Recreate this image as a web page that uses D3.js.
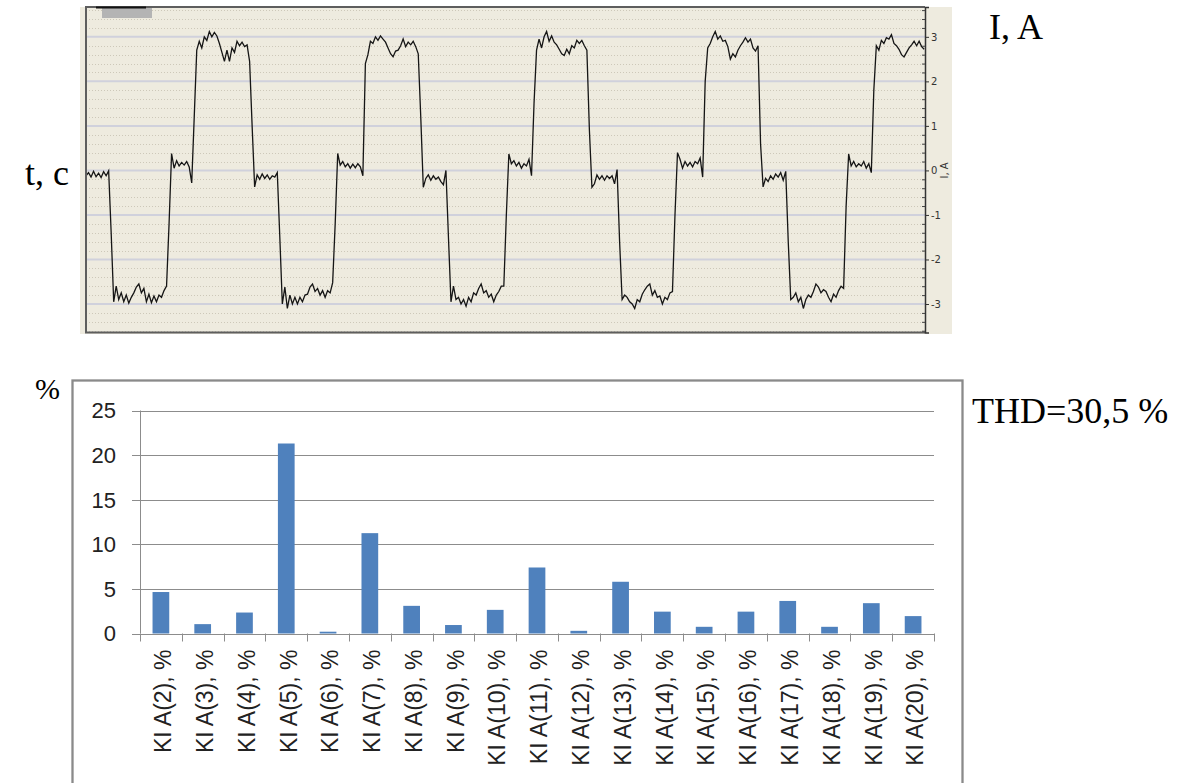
<!DOCTYPE html>
<html>
<head>
<meta charset="utf-8">
<script src="https://cdn.jsdelivr.net/npm/d3@7"></script>
<style>
  html, body { margin: 0; padding: 0; background: #ffffff; }
  svg { display: block; }
</style>
</head>
<body>
<svg id="chart" width="1192" height="783"></svg>
<script>
// ---- Data -------------------------------------------------------------
// Phase current I, A, sampled every 0.3 ms over a 100 ms window
const sampleStepMs = 0.3;
const currentA = [
  -0.12, -0.05, -0.15, -0.02, -0.14, -0.06, -0.16, -0.03, -0.12, -0.01,
  -1.4, -2.95,
  -2.6, -2.9, -2.75, -2.95, -2.8, -2.98, -2.85, -2.75, -2.62, -2.55, -2.75, -2.65, -2.95, -2.78, -2.97, -2.82, -2.95, -2.8, -2.85, -2.7, -2.6,
  -1.2, 0.38,
  0.05, 0.22, 0.1, 0.18, 0.12, 0.2, 0.08, -0.28,
  1.2, 2.7,
  2.9, 2.75, 3.0, 2.92, 3.12, 3.0, 3.1, 3.02, 2.85, 2.65, 2.45, 2.7, 2.45, 2.75, 2.65, 2.9, 2.8, 2.88, 2.78, 2.82, 2.45,
  1.0, -0.37,
  -0.1, -0.2, -0.08, -0.18, -0.1, -0.2, -0.12, -0.15, -0.05,
  -1.5, -3.0,
  -2.62, -3.1, -2.8, -3.0, -2.85, -3.0, -2.85, -2.95, -2.8, -2.78, -2.62, -2.55, -2.72, -2.65, -2.8, -2.7, -2.85, -2.7, -2.75, -2.52,
  -1.2, 0.38,
  0.12, 0.2, 0.08, 0.15, 0.05, 0.14, 0.06, 0.15, 0.08, -0.12,
  2.4,
  2.6, 2.9, 2.85, 3.0, 2.92, 3.02, 2.95, 2.88, 2.75, 2.62, 2.55, 2.68, 2.7, 2.8, 2.95, 2.78, 2.88, 2.82, 2.9, 2.78, 2.62,
  1.2, -0.38,
  -0.18, -0.1, -0.22, -0.12, -0.2, -0.15, -0.25, -0.32, 0.0,
  -1.5, -2.95,
  -2.6, -2.9, -2.85, -3.0, -2.9, -3.05, -2.85, -2.95, -2.75, -2.8, -2.65, -2.55, -2.75, -2.7, -2.85, -2.78, -2.95, -2.8, -2.72, -2.6, -2.6,
  -1.0, 0.37,
  0.15, 0.22, 0.1, 0.18, 0.05, 0.15, 0.1, 0.25, -0.12,
  1.5, 2.7,
  2.95, 2.75, 3.0, 3.12, 2.9, 3.02, 2.88, 2.82, 2.72, 2.62, 2.58, 2.72, 2.62, 2.8, 2.75, 2.92, 2.85, 2.92, 2.8, 2.7,
  0.9, -0.38,
  -0.3, -0.1, -0.2, -0.12, -0.22, -0.12, -0.18, -0.12, -0.3, 0.02,
  -1.6, -2.9,
  -2.8, -2.85, -2.95, -3.0, -3.1, -2.9, -2.95, -2.78, -2.68, -2.6, -2.55, -2.8, -2.7, -2.85, -2.82, -3.0, -2.85, -2.9, -2.75, -2.72,
  -1.0, 0.4,
  0.25, 0.05, 0.2, 0.1, 0.18, 0.08, 0.2, 0.15, 0.28, -0.15,
  2.0, 2.75,
  2.85, 3.0, 3.12, 2.95, 3.02, 2.9, 2.92, 2.78, 2.5, 2.62, 2.55, 2.7, 2.8, 2.88, 2.98, 2.88, 2.95, 2.75, 2.68, 2.8,
  0.6, -0.37,
  -0.18, -0.25, -0.12, -0.2, -0.08, -0.15, -0.05, -0.22, -0.02,
  -1.6, -2.9,
  -2.85, -2.75, -2.95, -2.85, -3.1, -2.9, -2.8, -2.85, -2.72, -2.55, -2.62, -2.75, -2.68, -2.72, -2.85, -2.95, -2.78, -2.85, -2.7, -2.6, -2.65,
  -0.8, 0.37,
  0.1, 0.2, 0.08, 0.15, 0.1, 0.2, 0.05, 0.15, -0.05,
  1.8, 2.8,
  2.7, 2.92, 2.85, 2.98, 2.95, 3.05, 2.85, 2.8, 2.72, 2.6, 2.55, 2.65, 2.75, 2.82, 2.9, 2.8, 2.9, 2.78, 2.72
];
const timeWindowMs = [0, 100];
const currentDomain = [-3.64, 3.67];
const currentTicks = [-3, -2, -1, 0, 1, 2, 3];

// Harmonic content of the current, % of fundamental
const harmonicLabels = [
  "KI A(2), %", "KI A(3), %", "KI A(4), %", "KI A(5), %", "KI A(6), %",
  "KI A(7), %", "KI A(8), %", "KI A(9), %", "KI A(10), %", "KI A(11), %",
  "KI A(12), %", "KI A(13), %", "KI A(14), %", "KI A(15), %", "KI A(16), %",
  "KI A(17), %", "KI A(18), %", "KI A(19), %", "KI A(20), %"
];
const harmonicValues = [4.65, 1.05, 2.35, 21.3, 0.2, 11.25, 3.1, 0.95, 2.65, 7.4,
                        0.3, 5.8, 2.45, 0.75, 2.45, 3.65, 0.75, 3.4, 1.95];
const percentTicks = [0, 5, 10, 15, 20, 25];
const thdText = "THD=30,5 %";

// ---- Drawing -------------------------------------------------------------
const svg = d3.select("#chart");

/* ===== Oscillogram ===== */
const osc = svg.append("g");
const oscLeft = 86, oscRight = 925, oscTop = 7, oscBottom = 332.5;

osc.append("rect")
  .attr("x", 80).attr("y", oscTop).attr("width", 952 - 80).attr("height", 334 - oscTop)
  .attr("fill", "#eeebdf");

const xT = d3.scaleLinear().domain(timeWindowMs).range([oscLeft, oscRight]);
const yI = d3.scaleLinear().domain(currentDomain).range([oscBottom, oscTop]);

// fine dotted grid every 0.2 A
const minorVals = d3.range(-18, 19).map(k => k / 5).filter(v => Math.abs(v - Math.round(v)) > 1e-9);
osc.append("g").selectAll("line").data(minorVals).join("line")
  .attr("x1", oscLeft).attr("x2", oscRight)
  .attr("y1", d => Math.round(yI(d)) + 0.5).attr("y2", d => Math.round(yI(d)) + 0.5)
  .attr("stroke", "#cdc8b9").attr("stroke-width", 1).attr("stroke-dasharray", "1,2");

// solid grid every 1 A
osc.append("g").selectAll("line").data(currentTicks).join("line")
  .attr("x1", oscLeft).attr("x2", oscRight)
  .attr("y1", d => yI(d)).attr("y2", d => yI(d))
  .attr("stroke", "#d0d1dc").attr("stroke-width", 2);

// waveform
const line = d3.line()
  .x((d, i) => xT(i * sampleStepMs))
  .y(d => yI(d));
osc.append("path")
  .datum(currentA)
  .attr("d", line)
  .attr("fill", "none")
  .attr("stroke", "#151515")
  .attr("stroke-width", 1.3)
  .attr("stroke-linejoin", "miter");

// frame (top, left, bottom)
osc.append("path")
  .attr("d", `M${oscRight},${oscTop} H${oscLeft} V${oscBottom} H${oscRight}`)
  .attr("fill", "none").attr("stroke", "#5e5e5e").attr("stroke-width", 2);

// right axis with minor ticks
const axisR = d3.axisRight(yI).tickValues(currentTicks).tickSize(4).tickPadding(2)
  .tickFormat(d => String(d));
const axG = osc.append("g").attr("transform", `translate(${oscRight},0)`).call(axisR);
axG.select(".domain").attr("stroke", "#333").attr("stroke-width", 1.5);
axG.selectAll(".tick line").attr("stroke", "#333");
axG.selectAll("text").attr("font-family", "Tahoma, 'DejaVu Sans', sans-serif")
  .attr("font-size", 10).attr("fill", "#333");
const minorAxis = d3.axisRight(yI).tickValues(minorVals).tickSize(-3).tickFormat("");
const mG = osc.append("g").attr("transform", `translate(${oscRight},0)`).call(minorAxis);
mG.select(".domain").remove();
mG.selectAll(".tick line").attr("stroke", "#444");

osc.append("text")
  .attr("transform", `translate(948,${yI(0)}) rotate(-90)`)
  .attr("text-anchor", "middle")
  .attr("font-family", "Tahoma, 'DejaVu Sans', sans-serif")
  .attr("font-size", 10).attr("fill", "#333")
  .text("I, A");

// scroll marker in the upper-left corner
osc.append("rect").attr("x", 102).attr("y", 8).attr("width", 50).attr("height", 10).attr("fill", "#b4b4b4");
osc.append("line").attr("x1", 96).attr("x2", 146).attr("y1", 7.5).attr("y2", 7.5)
  .attr("stroke", "#111").attr("stroke-width", 2);

/* ===== Harmonic spectrum ===== */
const bar = svg.append("g");
bar.append("rect")
  .attr("x", 72.5).attr("y", 380.5).attr("width", 890).attr("height", 430)
  .attr("fill", "#ffffff").attr("stroke", "#8a8a8a").attr("stroke-width", 2.3);

const bLeft = 140, bRight = 934, bTop = 410.5, bBottom = 633.5;
const xB = d3.scaleBand().domain(harmonicLabels).range([bLeft, bRight])
  .paddingInner(0.6).paddingOuter(0.3);
const yB = d3.scaleLinear().domain([0, 25]).range([bBottom, bTop]);

// horizontal gridlines (extend left as tick marks)
bar.append("g").selectAll("line").data(percentTicks.filter(d => d > 0)).join("line")
  .attr("x1", bLeft - 8).attr("x2", bRight)
  .attr("y1", d => Math.round(yB(d)) + 0.5).attr("y2", d => Math.round(yB(d)) + 0.5)
  .attr("stroke", "#8c8c8c").attr("stroke-width", 1);

// bars
bar.append("g").selectAll("rect").data(harmonicValues).join("rect")
  .attr("x", (d, i) => xB(harmonicLabels[i]))
  .attr("width", xB.bandwidth())
  .attr("y", d => yB(d))
  .attr("height", d => yB(0) - yB(d))
  .attr("fill", "#4f81bd");

// axes lines
bar.append("line").attr("x1", bLeft + 0.5).attr("x2", bLeft + 0.5).attr("y1", bTop).attr("y2", bBottom)
  .attr("stroke", "#8c8c8c").attr("stroke-width", 1);
bar.append("line").attr("x1", bLeft - 8).attr("x2", bRight).attr("y1", Math.round(bBottom) + 0.5).attr("y2", Math.round(bBottom) + 0.5)
  .attr("stroke", "#8c8c8c").attr("stroke-width", 1);

// category boundary ticks
const boundaries = d3.range(harmonicLabels.length + 1).map(k => bLeft + k * xB.step());
bar.append("g").selectAll("line").data(boundaries).join("line")
  .attr("x1", d => Math.round(d) + 0.5).attr("x2", d => Math.round(d) + 0.5)
  .attr("y1", bBottom).attr("y2", bBottom + 8)
  .attr("stroke", "#8c8c8c").attr("stroke-width", 1);

// y tick labels
bar.append("g").selectAll("text").data(percentTicks).join("text")
  .attr("x", 116).attr("y", d => yB(d))
  .attr("dy", "0.36em").attr("text-anchor", "end")
  .attr("font-family", "'Liberation Sans', Arial, sans-serif")
  .attr("font-size", 22).attr("fill", "#222")
  .text(d => d);

// category labels, rotated
bar.append("g").selectAll("text").data(harmonicLabels).join("text")
  .attr("transform", d => `translate(${xB(d) + xB.bandwidth() / 2 + 2},${bBottom + 16}) rotate(-90)`)
  .attr("dy", "0.36em").attr("text-anchor", "end")
  .attr("font-family", "'Liberation Sans', Arial, sans-serif")
  .attr("font-size", 23).attr("fill", "#222")
  .text(d => d);

/* ===== Annotations ===== */
const serif = "'Liberation Serif', 'Times New Roman', serif";
function note(x, y, txt, size) {
  svg.append("text").attr("x", x).attr("y", y).attr("font-family", serif)
    .attr("font-size", size).attr("fill", "#000").text(txt);
}
note(989, 39, "I, A", 36);
note(25, 185, "t, c", 36);
note(35, 399, "%", 30);
note(972, 423, thdText, 36);
</script>
</body>
</html>
